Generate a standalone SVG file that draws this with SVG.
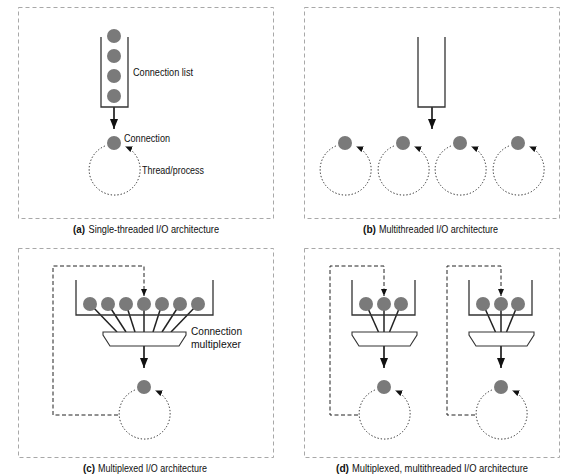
<svg xmlns="http://www.w3.org/2000/svg" width="579" height="476" viewBox="0 0 579 476">
<defs>
<style>
.frame{fill:none;stroke:#a8a8a8;stroke-width:1;stroke-dasharray:4 3}
.tube{fill:none;stroke:#333;stroke-width:1.3}
.dot{fill:#7a7a7a}
.arrow{fill:none;stroke:#111;stroke-width:1.6;marker-end:url(#ah)}
.loop{fill:none;stroke:#222;stroke-width:1;stroke-dasharray:1.3 2;marker-end:url(#ahs)}
.fb{fill:none;stroke:#222;stroke-width:1;stroke-dasharray:4 2.5;marker-end:url(#ahs)}
.spoke{stroke:#222;stroke-width:1.5}
.mux{fill:#fff;stroke:#333;stroke-width:1.1}
text{font-family:"Liberation Sans Narrow","Liberation Sans",Arial,sans-serif;font-size:11px;fill:#111}
.b{font-weight:bold}
</style>
<marker id="ah" viewBox="0 0 10 8" refX="10" refY="4" markerWidth="10" markerHeight="8" markerUnits="userSpaceOnUse" orient="auto"><path d="M0,0 L10,4 L0,8 z" fill="#111"/></marker>
<marker id="ahs" viewBox="0 0 7 6" refX="7" refY="3" markerWidth="7" markerHeight="6" markerUnits="userSpaceOnUse" orient="auto"><path d="M0,0 L7,3 L0,6 z" fill="#111"/></marker>
</defs>

<g id="frames">
<rect class="frame" x="18.5" y="7.5" width="255" height="211"/>
<rect class="frame" x="304.5" y="7.5" width="255" height="211"/>
<rect class="frame" x="18.5" y="248.5" width="255" height="209"/>
<rect class="frame" x="304.5" y="248.5" width="255" height="209"/>
</g>

<g id="connectors">
<!-- a -->
<path class="arrow" d="M114,107 V129"/>
<path class="loop" d="M104.9,146 A25.5 25.5 0 1 0 125.3,146.4"/>
<!-- b -->
<path class="arrow" d="M432,107 V129"/>
<path class="loop" d="M335.9,146 A25.5 25.5 0 1 0 356.3,146.4"/>
<path class="loop" d="M393.9,146 A25.5 25.5 0 1 0 414.3,146.4"/>
<path class="loop" d="M450.9,146 A25.5 25.5 0 1 0 471.3,146.4"/>
<path class="loop" d="M508.9,146 A25.5 25.5 0 1 0 529.3,146.4"/>
<!-- c -->
<line class="spoke" x1="90" y1="304" x2="117" y2="332"/>
<line class="spoke" x1="108" y1="304" x2="126" y2="332"/>
<line class="spoke" x1="126" y1="304" x2="135" y2="332"/>
<line class="spoke" x1="144" y1="304" x2="144" y2="332"/>
<line class="spoke" x1="162" y1="304" x2="153" y2="332"/>
<line class="spoke" x1="180" y1="304" x2="162" y2="332"/>
<line class="spoke" x1="198" y1="304" x2="171" y2="332"/>
<path class="arrow" d="M144,346 V368"/>
<path class="loop" d="M134.9,390 A25.5 25.5 0 1 0 155.3,390.4"/>
<path class="fb" d="M118,415 H53 V266 H144 V296"/>
<!-- d left -->
<line class="spoke" x1="366" y1="304" x2="378.5" y2="332"/>
<line class="spoke" x1="384" y1="304" x2="384" y2="332"/>
<line class="spoke" x1="401" y1="304" x2="389.5" y2="332"/>
<path class="arrow" d="M384,346 V368"/>
<path class="loop" d="M374.9,390 A25.5 25.5 0 1 0 395.3,390.4"/>
<path class="fb" d="M358,415 H330 V266 H384 V296"/>
<!-- d right -->
<line class="spoke" x1="483" y1="304" x2="495.5" y2="332"/>
<line class="spoke" x1="501" y1="304" x2="501" y2="332"/>
<line class="spoke" x1="518" y1="304" x2="506.5" y2="332"/>
<path class="arrow" d="M501,346 V368"/>
<path class="loop" d="M491.9,390 A25.5 25.5 0 1 0 512.3,390.4"/>
<path class="fb" d="M475,415 H447 V266 H501 V296"/>
</g>

<g id="panel-a">
<g id="a-list">
<path class="tube" d="M101,37 V107 H128 V37"/>
<circle class="dot" cx="114" cy="36" r="7"/>
<circle class="dot" cx="114" cy="56" r="7"/>
<circle class="dot" cx="114" cy="76" r="7"/>
<circle class="dot" cx="114" cy="96" r="7"/>
<text x="133" y="75.5" textLength="60" lengthAdjust="spacingAndGlyphs">Connection list</text>
</g>
<g id="a-conn">
<circle class="dot" cx="114" cy="143" r="7"/>
<text x="124" y="142" textLength="46" lengthAdjust="spacingAndGlyphs">Connection</text>
<text x="142" y="174" textLength="62" lengthAdjust="spacingAndGlyphs">Thread/process</text>
</g>
<text class="b" x="73" y="232.5" textLength="12" lengthAdjust="spacingAndGlyphs">(a)</text>
<text x="88.5" y="232.5" textLength="130.5" lengthAdjust="spacingAndGlyphs">Single-threaded I/O architecture</text>
</g>

<g id="panel-b">
<g id="b-list"><path class="tube" d="M418,37 V107 H445 V37"/></g>
<g id="b-conns">
<circle class="dot" cx="345" cy="143" r="7"/>
<circle class="dot" cx="403" cy="143" r="7"/>
<circle class="dot" cx="460" cy="143" r="7"/>
<circle class="dot" cx="518" cy="143" r="7"/>
</g>
<text class="b" x="363" y="232.5" textLength="13" lengthAdjust="spacingAndGlyphs">(b)</text>
<text x="379" y="232.5" textLength="119" lengthAdjust="spacingAndGlyphs">Multithreaded I/O architecture</text>
</g>

<g id="panel-c">
<g id="c-list">
<path class="tube" d="M76,280 V315 H213 V280"/>
<circle class="dot" cx="90" cy="304" r="7"/>
<circle class="dot" cx="108" cy="304" r="7"/>
<circle class="dot" cx="126" cy="304" r="7"/>
<circle class="dot" cx="144" cy="304" r="7"/>
<circle class="dot" cx="162" cy="304" r="7"/>
<circle class="dot" cx="180" cy="304" r="7"/>
<circle class="dot" cx="198" cy="304" r="7"/>
</g>
<g id="c-mux">
<polygon class="mux" points="103,332 186,332 186,335 179,346 110,346 103,335"/>
<text x="191" y="334.5" textLength="51" lengthAdjust="spacingAndGlyphs">Connection</text>
<text x="191" y="348" textLength="50" lengthAdjust="spacingAndGlyphs">multiplexer</text>
</g>
<g id="c-conn"><circle class="dot" cx="144" cy="387" r="7"/></g>
<text class="b" x="83" y="471.5" textLength="12" lengthAdjust="spacingAndGlyphs">(c)</text>
<text x="98" y="471.5" textLength="109" lengthAdjust="spacingAndGlyphs">Multiplexed I/O architecture</text>
</g>

<g id="panel-d">
<g id="d-list1">
<path class="tube" d="M352,280 V315 H415 V280"/>
<circle class="dot" cx="366" cy="304" r="7"/>
<circle class="dot" cx="384" cy="304" r="7"/>
<circle class="dot" cx="401" cy="304" r="7"/>
</g>
<g id="d-mux1"><polygon class="mux" points="352,332 417,332 417,335 410,346 359,346 352,335"/></g>
<g id="d-conn1"><circle class="dot" cx="384" cy="387" r="7"/></g>
<g id="d-list2">
<path class="tube" d="M469,280 V315 H532 V280"/>
<circle class="dot" cx="483" cy="304" r="7"/>
<circle class="dot" cx="501" cy="304" r="7"/>
<circle class="dot" cx="518" cy="304" r="7"/>
</g>
<g id="d-mux2"><polygon class="mux" points="469,332 534,332 534,335 527,346 476,346 469,335"/></g>
<g id="d-conn2"><circle class="dot" cx="501" cy="387" r="7"/></g>
<text class="b" x="336" y="471.5" textLength="13" lengthAdjust="spacingAndGlyphs">(d)</text>
<text x="352" y="471.5" textLength="176" lengthAdjust="spacingAndGlyphs">Multiplexed, multithreaded I/O architecture</text>
</g>
</svg>
